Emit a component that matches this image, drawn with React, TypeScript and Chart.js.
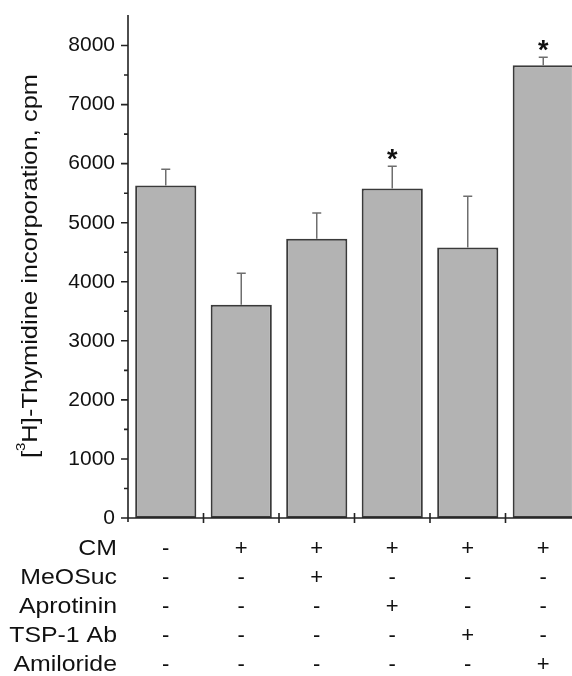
import React, { useEffect, useRef } from "react";
import { Chart, registerables } from "chart.js";

Chart.register(...registerables);

const categories = ["Control", "CM", "CM + MeOSuc", "CM + Aprotinin", "CM + TSP-1 Ab", "CM + Amiloride"];
const thymidineCpm = [5630, 3610, 4730, 5580, 4580, 7665];
const errorCpm = [275, 535, 436, 376, 868, 135];
const significant = [false, false, false, true, false, true];
const rowLabels = ["CM", "MeOSuc", "Aprotinin", "TSP-1 Ab", "Amiloride"];
const cmRow = ["-", "+", "+", "+", "+", "+"];
const meosucRow = ["-", "-", "+", "-", "-", "-"];
const aprotininRow = ["-", "-", "-", "+", "-", "-"];
const tspRow = ["-", "-", "-", "-", "+", "-"];
const amilorideRow = ["-", "-", "-", "-", "-", "+"];
const yTickValues = [0, 1000, 2000, 3000, 4000, 5000, 6000, 7000, 8000];
const yMinorTickValues = [500, 1500, 2500, 3500, 4500, 5500, 6500, 7500];
const yMax = 8500;

const FONT = '"Liberation Sans", Arial, Helvetica, sans-serif';

const overlay = {
  id: "overlay",
  afterDraw(chart: any) {
    const ctx: CanvasRenderingContext2D = chart.ctx;
    const xs = chart.scales.x;
    const ys = chart.scales.y;
    const area = chart.chartArea;
    const ax = area.left;
    const ay = area.bottom;
    ctx.save();

    // error bars and significance stars
    thymidineCpm.forEach((v, i) => {
      const cx = xs.getPixelForValue(i);
      const yTop = ys.getPixelForValue(v);
      const yErr = ys.getPixelForValue(v + errorCpm[i]);
      ctx.strokeStyle = "#6e6e6e";
      ctx.lineWidth = 1.5;
      ctx.beginPath();
      ctx.moveTo(cx, yTop);
      ctx.lineTo(cx, yErr);
      ctx.moveTo(cx - 4.5, yErr);
      ctx.lineTo(cx + 4.5, yErr);
      ctx.stroke();
      if (significant[i]) {
        ctx.fillStyle = "#111";
        ctx.font = `bold 27px ${FONT}`;
        ctx.textAlign = "center";
        ctx.textBaseline = "alphabetic";
        ctx.fillText("*", cx, yErr + 2);
      }
    });

    // axes
    ctx.strokeStyle = "#222";
    ctx.lineWidth = 1.6;
    ctx.beginPath();
    ctx.moveTo(ax, area.top - 1);
    ctx.lineTo(ax, ay + 4);
    ctx.moveTo(ax - 7, ay);
    ctx.lineTo(area.right, ay);
    yTickValues.forEach((v) => {
      const py = ys.getPixelForValue(v);
      ctx.moveTo(ax - 7, py);
      ctx.lineTo(ax, py);
    });
    yMinorTickValues.forEach((v) => {
      const py = ys.getPixelForValue(v);
      ctx.moveTo(ax - 4, py);
      ctx.lineTo(ax, py);
    });
    for (let i = 1; i < categories.length; i++) {
      const bx = (xs.getPixelForValue(i - 1) + xs.getPixelForValue(i)) / 2;
      ctx.moveTo(bx, ay - 5);
      ctx.lineTo(bx, ay + 5);
    }
    ctx.stroke();

    // y-axis title with superscript
    ctx.fillStyle = "#111";
    ctx.save();
    ctx.translate(37, 266);
    ctx.rotate(-Math.PI / 2);
    ctx.scale(1.16, 1);
    ctx.textAlign = "left";
    ctx.textBaseline = "alphabetic";
    const big = `22px ${FONT}`;
    const small = `13px ${FONT}`;
    const p1 = "[";
    const p2 = "3";
    const p3 = "H]-Thymidine incorporation, cpm";
    ctx.font = big;
    const w1 = ctx.measureText(p1).width;
    const w3 = ctx.measureText(p3).width;
    ctx.font = small;
    const w2 = ctx.measureText(p2).width;
    let tx = -(w1 + w2 + w3) / 2;
    ctx.font = big;
    ctx.fillText(p1, tx, 0);
    tx += w1;
    ctx.font = small;
    ctx.fillText(p2, tx, -12);
    tx += w2;
    ctx.font = big;
    ctx.fillText(p3, tx, 0);
    ctx.restore();

    // treatment table
    const rows = [cmRow, meosucRow, aprotininRow, tspRow, amilorideRow];
    rows.forEach((row, r) => {
      const ry = ay + 31 + r * 29;
      ctx.save();
      ctx.translate(117, ry);
      ctx.scale(1.13, 1);
      ctx.font = `22px ${FONT}`;
      ctx.textAlign = "right";
      ctx.textBaseline = "middle";
      ctx.fillText(rowLabels[r], 0, 0);
      ctx.restore();
      ctx.font = `22px ${FONT}`;
      ctx.textAlign = "center";
      ctx.textBaseline = "middle";
      row.forEach((s, i) => {
        ctx.fillText(s, xs.getPixelForValue(i), ry);
      });
    });

    ctx.restore();
  },
};

export default function App() {
  const ref = useRef<HTMLCanvasElement | null>(null);
  useEffect(() => {
    if (!ref.current) return;
    const chart = new Chart(ref.current, {
      type: "bar",
      data: {
        labels: categories,
        datasets: [
          {
            data: thymidineCpm,
            backgroundColor: "#b3b3b3",
            borderColor: "#3a3a3a",
            borderWidth: 2,
            borderSkipped: false,
            barPercentage: 0.81,
            categoryPercentage: 1,
          },
        ],
      },
      options: {
        animation: false,
        responsive: false,
        devicePixelRatio: 1,
        layout: { padding: { top: 16, left: 0, right: 0, bottom: 0 } },
        plugins: { legend: { display: false }, tooltip: { enabled: false } },
        scales: {
          x: {
            type: "category",
            grid: { display: false, drawTicks: false },
            border: { display: false },
            ticks: { display: false },
            afterFit: (s: any) => {
              s.height = 158;
            },
          },
          y: {
            min: 0,
            max: yMax,
            grid: { display: false, drawTicks: false },
            border: { display: false },
            afterBuildTicks: (s: any) => {
              s.ticks = yTickValues.map((v) => ({ value: v }));
            },
            ticks: {
              autoSkip: false,
              padding: 13,
              color: "#111",
              font: { family: FONT, size: 21 },
              callback: (v: any) => String(v),
            },
            afterFit: (s: any) => {
              s.width = 128;
              s.paddingTop = 0;
              s.paddingBottom = 0;
            },
          },
        },
      },
      plugins: [overlay],
    });
    return () => chart.destroy();
  }, []);
  return (
    <div style={{ position: "fixed", left: 0, top: 0, width: 572, height: 676, overflow: "hidden", background: "#fff" }}>
      <canvas ref={ref} width={581} height={676} style={{ display: "block" }} />
    </div>
  );
}
